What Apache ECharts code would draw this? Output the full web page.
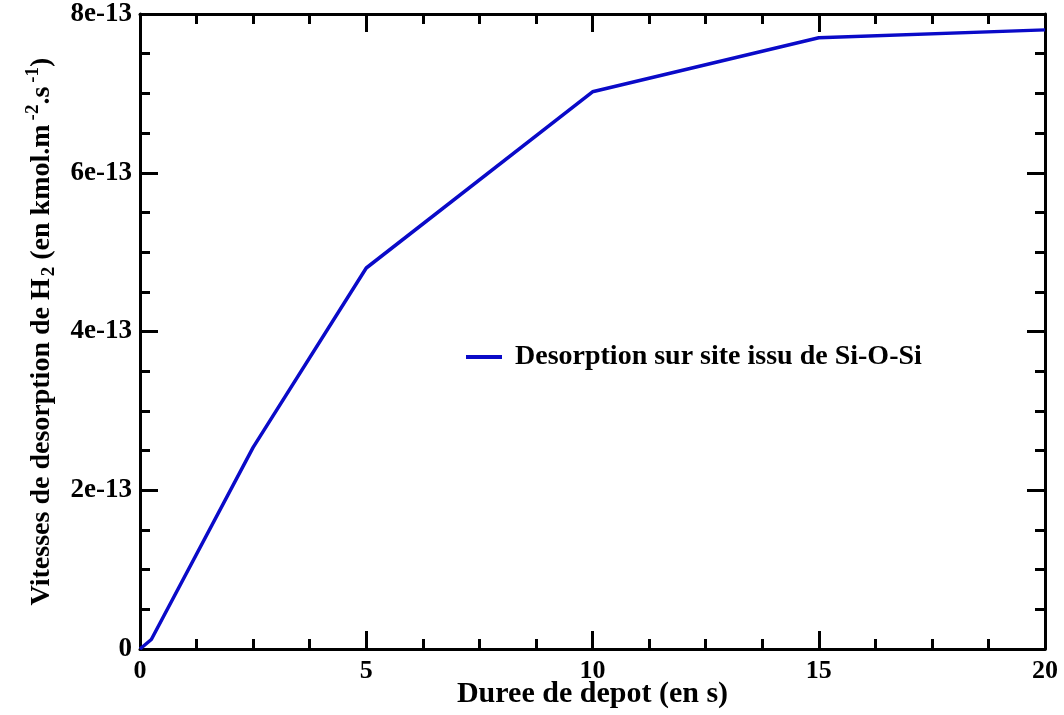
<!DOCTYPE html>
<html><head><meta charset="utf-8">
<script src="https://cdn.jsdelivr.net/npm/echarts@6/dist/echarts.min.js"></script>
<style>html,body{margin:0;padding:0;background:#fff}#c{width:1064px;height:715px}</style>
</head><body><div id="c"></div>
<script>
const durees = [0, 0.25, 2.5, 5, 10, 15, 20];
const vitesses = [0, 0.12e-13, 2.54e-13, 4.8e-13, 7.02e-13, 7.7e-13, 7.8e-13];
const serieName = 'Desorption sur site issu de Si-O-Si';
const yTickValues = [0, 2e-13, 4e-13, 6e-13, 8e-13];
const yTickLabels = ['0', '2e-13', '4e-13', '6e-13', '8e-13'];
const xTitle = 'Duree de depot (en s)';

const font = 'Liberation Serif';
function yLabel(v) {
  let best = 0, d = Infinity;
  yTickValues.forEach((t, i) => { const dd = Math.abs(t - v); if (dd < d) { d = dd; best = i; } });
  return yTickLabels[best];
}
const axisLineStyle = { color: '#000', width: 3 };
const chart = echarts.init(document.getElementById('c'));
const baseX = {
  type: 'value', min: 0, max: 20, interval: 5,
  axisLine: { show: true, onZero: false, lineStyle: axisLineStyle },
  axisTick: { show: true, inside: true, length: 18, lineStyle: { color: '#000', width: 3 } },
  minorTick: { show: true, splitNumber: 4, length: 10, lineStyle: { color: '#000', width: 3 } },
  splitLine: { show: false }
};
const baseY = {
  type: 'value', min: 0, max: 8e-13, interval: 2e-13,
  axisLine: { show: true, onZero: false, lineStyle: axisLineStyle },
  axisTick: { show: true, inside: true, length: 18, lineStyle: { color: '#000', width: 3 } },
  minorTick: { show: true, splitNumber: 4, length: 10, lineStyle: { color: '#000', width: 3 } },
  splitLine: { show: false }
};
chart.setOption({
  animation: false,
  backgroundColor: '#fff',
  grid: { left: 140, right: 19, top: 14, bottom: 66, containLabel: false, outerBoundsMode: 'none' },
  legend: {
    left: 461, top: 338, itemWidth: 36, itemHeight: 4, itemGap: 10,
    icon: 'rect',
    textStyle: { fontFamily: font, fontWeight: 'bold', fontSize: 28, color: '#000', padding: [0, 0, 0, 8] },
    data: [{ name: serieName, icon: 'rect' }]
  },
  xAxis: [
    Object.assign({}, baseX, {
      position: 'bottom',
      axisLabel: { show: true, margin: 9, fontFamily: font, fontWeight: 'bold', fontSize: 26, color: '#000' },
      name: xTitle, nameLocation: 'middle', nameGap: 30, nameMoveOverlap: false,
      nameTextStyle: { fontFamily: font, fontWeight: 'bold', fontSize: 30, color: '#000' }
    }),
    Object.assign({}, baseX, { position: 'top', axisLabel: { show: false } })
  ],
  yAxis: [
    Object.assign({}, baseY, {
      position: 'left',
      axisLabel: { show: true, margin: 8, formatter: yLabel, fontFamily: font, fontWeight: 'bold', fontSize: 27, color: '#000' },
      name: '{a|Vitesses de desorption de H}{s|2}{a| (en kmol.m}{p|-2}{a|.s}{p|-1}{a|)}',
      nameLocation: 'middle', nameRotate: 90, nameGap: 80, nameMoveOverlap: false,
      nameTextStyle: {
        rich: {
          a: { fontFamily: font, fontWeight: 'bold', fontSize: 28, color: '#000', lineHeight: 36, verticalAlign: 'middle' },
          s: { fontFamily: font, fontWeight: 'bold', fontSize: 19, color: '#000', lineHeight: 36, padding: [14, 0, 0, 2], verticalAlign: 'middle' },
          p: { fontFamily: font, fontWeight: 'bold', fontSize: 19, color: '#000', lineHeight: 36, padding: [0, 0, 18, 4], verticalAlign: 'middle' }
        }
      }
    }),
    Object.assign({}, baseY, { position: 'right', axisLabel: { show: false } })
  ],
  series: [{
    name: serieName, type: 'line',
    data: durees.map((x, i) => [x, vitesses[i]]),
    showSymbol: false, symbol: 'none',
    lineStyle: { color: '#0a0ac8', width: 3.5 },
    itemStyle: { color: '#0a0ac8' }
  }]
});
</script></body></html>
